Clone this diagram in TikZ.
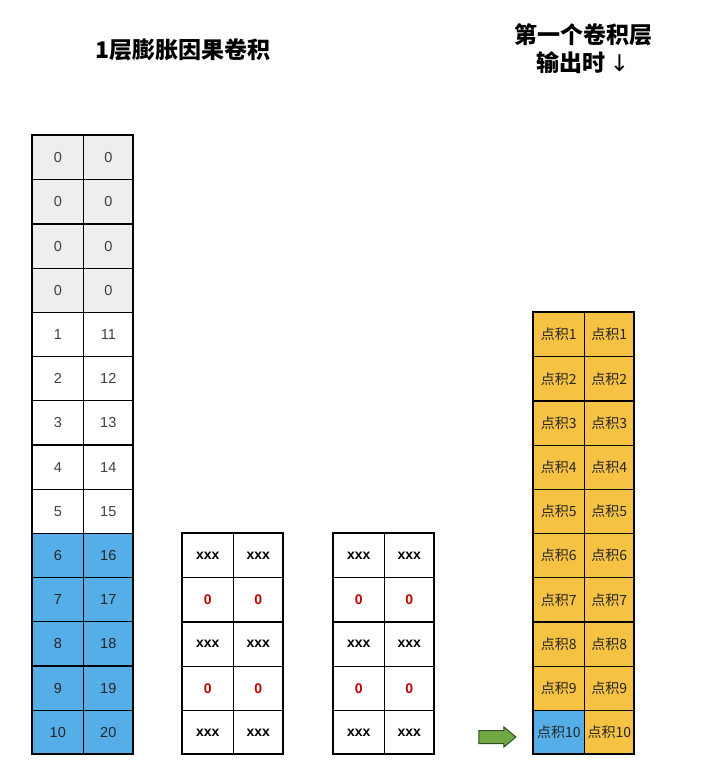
\documentclass[tikz,border=0pt]{standalone}
\usepackage{fontspec}
\setmainfont{Liberation Sans}
\newfontfamily\cjk{Noto Sans CJK SC}
\usetikzlibrary{shapes.arrows}
\definecolor{cgray}{HTML}{EEEEEE}
\definecolor{cblue}{HTML}{55AEE8}
\definecolor{corange}{HTML}{F6C244}
\definecolor{cred}{HTML}{C00000}
\definecolor{cgreen}{HTML}{72A844}
\definecolor{cgreendark}{HTML}{2F4F1E}
\begin{document}
\begin{tikzpicture}[x=1pt,y=-1pt,
  cell/.style={draw=black, line width=1.1pt, minimum width=50.5pt, minimum height=44.2pt,
    inner sep=0pt, anchor=north west, font=\fontsize{14.5}{16}\selectfont},
  graycell/.style={cell, fill=cgray, text=black!75},
  whitecell/.style={cell, fill=white, text=black!75},
  bluecell/.style={cell, fill=cblue, text=black!85},
  xcell/.style={cell, fill=white, text=black, font=\bfseries\fontsize{14}{16}\selectfont},
  zcell/.style={cell, fill=white, text=cred, font=\bfseries\fontsize{14}{16}\selectfont},
  dotcell/.style={cell, fill=corange, text=black!85, font=\cjk\fontsize{14}{16}\selectfont},
  dotblue/.style={dotcell, fill=cblue},
  frame/.style={draw=black, line width=1.8pt},
  title/.style={font=\cjk\bfseries\fontsize{23}{28}\selectfont, align=center}
]
\useasboundingbox (0,0) rectangle (704,769);
\fill[white] (0,0) rectangle (704,769);

% titles
\node[title] (t1) at (183,50) {1层膨胀因果卷积};
\node[title] (t2) at (583,49) {第一个卷积层\\输出时\,{\fontspec{DejaVu Sans}\mdseries↓}};

% left column: 14 rows
\foreach \i in {0,...,13}{
  \pgfmathsetmacro{\yy}{135+\i*44.2}
  \ifnum\i<4
    \node[graycell] (L\i a) at (32,\yy) {0};
    \node[graycell] (L\i b) at (82.5,\yy) {0};
  \else
    \pgfmathtruncatemacro{\va}{\i-3}
    \pgfmathtruncatemacro{\vb}{\i+7}
    \ifnum\i<9
      \node[whitecell] (L\i a) at (32,\yy) {\va};
      \node[whitecell] (L\i b) at (82.5,\yy) {\vb};
    \else
      \node[bluecell] (L\i a) at (32,\yy) {\va};
      \node[bluecell] (L\i b) at (82.5,\yy) {\vb};
    \fi
  \fi
}
\draw[frame] (32,135) rectangle (133,753.8);

% middle grids
\foreach \gx/\g in {182/M, 333/N}{
  \foreach \i in {0,...,4}{
    \pgfmathsetmacro{\yy}{533+\i*44.2}
    \ifodd\i
      \node[zcell] (\g\i a) at (\gx,\yy) {0};
      \node[zcell] (\g\i b) at (\gx+50.5,\yy) {0};
    \else
      \node[xcell] (\g\i a) at (\gx,\yy) {xxx};
      \node[xcell] (\g\i b) at (\gx+50.5,\yy) {xxx};
    \fi
  }
  \draw[frame] (\gx,533) rectangle (\gx+101,754);
}

% right grid
\foreach \i in {0,...,9}{
  \pgfmathsetmacro{\yy}{312+\i*44.2}
  \pgfmathtruncatemacro{\v}{\i+1}
  \ifnum\i=9
    \node[dotblue] (R\i a) at (533,\yy) {点积\v};
  \else
    \node[dotcell] (R\i a) at (533,\yy) {点积\v};
  \fi
  \node[dotcell] (R\i b) at (583.5,\yy) {点积\v};
}
\draw[frame] (533,312) rectangle (634,754);

% green arrow
\node[single arrow, fill=cgreen, draw=cgreendark, line width=1pt,
  minimum height=37pt, minimum width=18pt, inner sep=6pt,
  single arrow head extend=3.5pt, single arrow tip angle=80, anchor=center] (arr) at (493.5,737) {};
\end{tikzpicture}
\end{document}
